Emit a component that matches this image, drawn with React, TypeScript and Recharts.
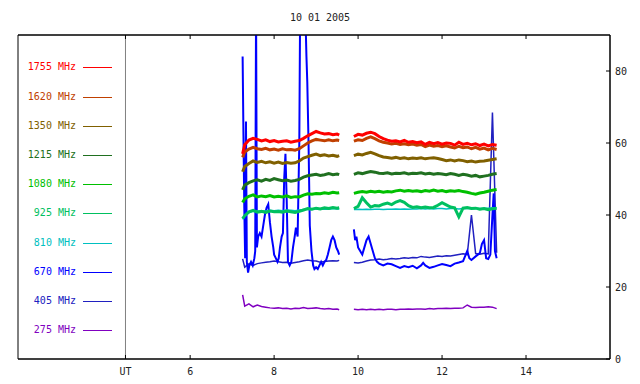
import React from 'react';
import { LineChart, Line, XAxis, YAxis, ReferenceLine, ReferenceArea } from 'recharts';

const title = '10 01 2005';

// UT hours shared by the quieter channels (9.75 marks the data gap)
const hours = [
  7.25, 7.3, 7.4, 7.5, 7.6, 7.7, 7.8, 7.9, 8.0, 8.1, 8.2, 8.3, 8.4, 8.5, 8.6, 8.7, 8.8, 8.9, 9.0, 9.1, 9.2, 9.3, 9.4, 9.5, 9.55,
  9.75,
  9.9, 10.0, 10.1, 10.2, 10.3, 10.4, 10.5, 10.6, 10.7, 10.8, 10.9, 11.0, 11.1, 11.2, 11.3, 11.4, 11.5, 11.6, 11.7, 11.8, 11.9,
  12.0, 12.1, 12.2, 12.3, 12.4, 12.5, 12.6, 12.7, 12.8, 12.9, 13.0, 13.1, 13.2, 13.3,
];

const mhz1755 = [
  57, 59.5, 60.8, 61.3, 61, 60.6, 60.9, 60.4, 60.7, 60.3, 60.5, 60.6, 60.2, 60.5, 60.7, 61.3, 62, 62.6, 63.2, 62.8, 62.5, 62.6, 62.3, 62.5, 62.2,
  null,
  61.8, 62.4, 62.2, 62.7, 63, 62.6, 61.8, 61.2, 60.8, 60.5, 60.6, 60.3, 60.7, 60.2, 60.4, 60.1, 60.3, 59.6, 60.2, 59.8, 60.1,
  59.7, 60.0, 59.9, 59.4, 60.2, 59.6, 59.9, 59.5, 59.8, 59.3, 59.7, 59.2, 59.6, 59.4,
];
const mhz1620 = [
  56, 57.5, 58.3, 58.8, 58.4, 58.2, 58.5, 58.1, 58.3, 58.0, 58.4, 58.1, 58.2, 58.0, 58.4, 59.2, 60.0, 60.6, 61.0, 60.8, 60.6, 60.9, 60.6, 60.8, 60.7,
  null,
  60.5, 60.9, 60.7, 61.3, 61.7, 61.2, 60.6, 60.2, 60.0, 59.7, 59.9, 59.6, 59.8, 59.5, 59.7, 59.4, 59.6, 59.0, 59.4, 59.1, 59.3,
  59.0, 59.2, 58.9, 58.6, 59.1, 58.7, 58.9, 58.4, 58.8, 58.3, 58.6, 58.1, 58.5, 58.2,
];
const mhz1350 = [
  52, 53.5, 54.3, 55, 54.6, 54.9, 54.5, 54.8, 54.4, 54.7, 54.3, 54.6, 54.4, 54.5, 55.0, 55.8, 56.2, 56.6, 56.9, 56.5, 56.7, 56.4, 56.6, 56.3, 56.5,
  null,
  56.5, 56.9, 56.7, 57.1, 57.4, 57.0, 56.5, 56.1, 56.0, 55.8, 56.0, 55.7, 55.9, 55.6, 55.8, 55.7, 55.9, 55.6, 55.8, 55.9, 55.7,
  55.4, 55.1, 55.3, 55.0, 55.3, 55.1, 54.8, 55.0, 54.7, 54.9, 55.0, 55.2, 55.4, 55.6,
];
const mhz1215 = [
  47, 48.3, 49.0, 49.5, 49.8, 49.4, 49.9, 49.6, 50.1, 49.8, 49.5, 49.7, 49.4, 49.6, 49.9, 50.5, 50.9, 51.1, 51.3, 51.0, 51.2, 51.5, 51.2, 51.4, 51.2,
  null,
  51.3, 51.7, 51.5, 51.8, 52.1, 51.9, 51.6, 51.5, 51.7, 51.4, 51.6, 51.5, 51.7, 51.4, 51.6, 51.5, 51.7, 51.4, 51.6, 51.3, 51.5,
  51.4, 51.2, 51.5, 51.3, 51.0, 51.3, 51.1, 50.8, 51.0, 50.6, 50.8, 51.0, 51.3, 51.5,
];
const mhz1080 = [
  43.5, 44.5, 45.2, 45.6, 45.0, 45.3, 45.1, 45.4, 45.0, 45.2, 45.0, 45.3, 44.9, 45.1, 45.0, 45.5, 45.9, 45.8, 46.0, 45.9, 46.2, 46.0, 46.3, 46.1, 46.2,
  null,
  46.0, 46.3, 46.5, 46.3, 46.6, 46.4, 46.6, 46.3, 46.5, 46.4, 46.7, 46.9, 46.6, 46.8, 46.6, 46.7, 46.5, 46.8, 46.6, 46.9, 46.6,
  46.8, 46.5, 46.7, 46.6, 46.8, 46.5, 46.3, 46.0, 45.8, 46.1, 46.3, 46.6, 46.9, 47.1,
];
const mhz925 = [
  39.0, 39.8, 40.9, 41.3, 40.8, 41.0, 40.7, 41.1, 40.9, 41.0, 40.8, 41.1, 40.9, 40.7, 41.0, 41.4, 41.8, 41.6, 41.9, 41.7, 42.0, 41.8, 42.1, 41.9, 42.0,
  null,
  41.8, 42.4, 44.8, 43.4, 42.2, 42.6, 42.5, 43.0, 43.3, 42.9, 43.6, 44.0, 43.5, 42.6, 42.1, 42.3, 42.0, 42.2, 42.0, 42.1, 42.7,
  43.4, 42.8, 42.2, 42.0, 39.5, 41.9, 42.1, 41.8, 41.9, 41.6, 41.8, 41.5, 41.7, 41.9,
];
const mhz810 = [
  38.8, 39.6, 40.6, 41.0, 41.1, 41.2, 41.1, 41.3, 41.2, 41.3, 41.2, 41.4, 41.3, 41.2, 41.4, 41.5, 41.6, 41.5, 41.7, 41.6, 41.7, 41.6, 41.8, 41.7, 41.7,
  null,
  41.5, 41.6, 41.5, 41.6, 41.5, 41.6, 41.6, 41.5, 41.6, 41.6, 41.7, 41.6, 41.7, 41.6, 41.7, 41.7, 41.8, 41.7, 41.8, 41.7, 41.8,
  41.8, 41.7, 41.8, 41.8, 41.7, 41.8, 41.9, 41.8, 41.9, 41.8, 41.9, 41.9, 42.0, 42.0,
];
const mhz405 = [
  27.8, 25.5, 26.4, 26.0, 26.5, 26.7, 26.9, 27.0, 27.2, 27.0, 26.8, 26.9, 26.6, 26.8, 27.0, 27.3, 27.5, 27.3, 27.2, 26.9, 27.1, 27.2, 27.3, 27.2, 27.4,
  null,
  26.8, 26.7, 26.9, 27.2, 27.5, 27.6, 27.8, 27.6, 27.7, 27.9, 27.8, 27.9, 28.1, 28.0, 28.2, 28.1, 28.5, 28.3, 28.2, 28.4, 28.6,
  28.5, 28.7, 28.6, 28.8, 29.0, 29.2, 29.0, 40.0, 29.3, 29.1, 29.4, 29.2, 68.5, 29.5,
];
const mhz275 = [
  17.8, 14.7, 15.3, 14.5, 15.0, 14.6, 14.4, 14.2, 14.1, 14.2, 14.0, 14.1, 13.9, 14.1, 14.0, 14.3, 14.0, 14.1, 14.2, 14.0, 13.9, 14.0, 13.8, 13.9, 13.7,
  null,
  13.8, 13.7, 13.8, 13.7, 13.8, 13.7, 13.8, 13.7, 13.8, 13.8, 13.7, 13.8, 13.8, 13.9, 13.8, 13.9, 13.9, 13.8, 14.0, 13.9, 14.0,
  14.0, 14.1, 14.0, 14.1, 14.1, 14.2, 15.0, 14.4, 14.3, 14.4, 14.4, 14.5, 14.4, 14.0,
];

// 670 MHz is bursty, so it gets its own finer time grid
const hours670 = [
  7.25, 7.27, 7.29, 7.31, 7.33, 7.35, 7.38, 7.41, 7.45, 7.49, 7.53, 7.55, 7.57, 7.59, 7.62, 7.66, 7.7, 7.74, 7.78, 7.82,
  7.86, 7.9, 7.94, 7.98, 8.0, 8.04, 8.08, 8.11, 8.14, 8.18, 8.21, 8.24, 8.27, 8.3, 8.33, 8.37, 8.41, 8.45, 8.49, 8.52,
  8.56, 8.6, 8.62, 8.66, 8.7, 8.74, 8.77, 8.79, 8.82, 8.85, 8.89, 8.93, 8.96, 9.0, 9.04, 9.08, 9.12, 9.16, 9.2, 9.24,
  9.28, 9.32, 9.36, 9.4, 9.44, 9.48, 9.52, 9.55,
  9.75,
  9.9, 9.93, 9.96, 10.0, 10.05, 10.1, 10.15, 10.2, 10.25, 10.3, 10.35, 10.4, 10.45, 10.5, 10.6, 10.7, 10.8, 10.9, 11.0, 11.1,
  11.2, 11.3, 11.4, 11.5, 11.55, 11.6, 11.7, 11.8, 11.9, 12.0, 12.1, 12.2, 12.3, 12.4, 12.5, 12.6, 12.65, 12.7, 12.8, 12.9,
  12.95, 13.0, 13.05, 13.1, 13.15, 13.2, 13.23, 13.26, 13.3,
];
const mhz670 = [
  84, 62, 42, 28, 66, 27, 24, 26, 27, 26, 28, 30, 98, 31, 34, 35, 34, 37, 40, 42,
  43, 38, 34, 31, 29, 28, 27, 28, 31, 34, 35, 50, 57, 44, 27, 26, 27, 31, 34, 36.5,
  34, 60, 98, 98, 98, 98, 84, 77, 60, 37, 30, 26, 25, 25.5, 25, 26, 27, 26, 27, 27.5,
  29, 31, 33, 34, 33, 31, 30, 29,
  null,
  36, 33, 34, 31, 30, 29, 31, 33, 34, 32, 30, 28, 27, 26.5, 26, 26.5, 26.3, 25.8, 25.3, 25.8,
  25.5, 25.9, 25.2, 26, 26.7, 26, 25.3, 25.6, 26, 26.4, 26.1, 25.8, 26.5, 26.8, 27.2, 30, 28, 27.5, 28.5, 29.4,
  32, 33, 28, 27.8, 29, 40, 46, 30, 28,
];

const freqLabels = ['1755 MHz', '1620 MHz', '1350 MHz', '1215 MHz', '1080 MHz', '925 MHz', '810 MHz', '670 MHz', '405 MHz', '275 MHz'];
const seriesKeys = ['s1755', 's1620', 's1350', 's1215', 's1080', 's925', 's810', 's670', 's405', 's275'];
const colors = ['#ff0000', '#c04000', '#806000', '#207020', '#00c000', '#00c060', '#00c0c0', '#0000ff', '#2020c0', '#8000c0'];

const xTicks = [4.46, 6, 8, 10, 12, 14];
const yTicks = [0, 20, 40, 60, 80];

const table = hours.map((t, i) => ({
  t,
  s1755: mhz1755[i], s1620: mhz1620[i], s1350: mhz1350[i], s1215: mhz1215[i], s1080: mhz1080[i],
  s925: mhz925[i], s810: mhz810[i], s405: mhz405[i], s275: mhz275[i],
}));
const table670 = hours670.map((t, i) => ({ t, s670: mhz670[i] }));

const mono = 'DejaVu Sans Mono, monospace';
const tickStyle = { fill: '#222', fontSize: 10, fontFamily: mono };

const App = () => {
  // draw low frequencies first so 1755 ends up on top
  const order = [9, 8, 7, 6, 5, 4, 3, 2, 1, 0];
  return (
    <div style={{ position: 'absolute', left: 0, top: 0, width: 640, height: 384, background: '#fff' }}>
      <div style={{ position: 'absolute', left: 0, top: 12, width: 640, textAlign: 'center', fontFamily: mono, fontSize: 10, lineHeight: '12px', color: '#222' }}>
        {title}
      </div>
      <LineChart width={640} height={384} data={table} margin={{ top: 5, right: 0, bottom: 0, left: 18 }}>
        <XAxis
          dataKey="t" type="number" domain={[1.9, 16]} allowDataOverflow ticks={xTicks} interval={0}
          tickFormatter={(v: number) => (v === 4.46 ? 'UT' : String(v))}
          tickSize={-4} tickMargin={13} height={25}
          axisLine={{ stroke: '#000' }} tickLine={{ stroke: '#000' }} tick={tickStyle}
        />
        <XAxis
          xAxisId="top" orientation="top" dataKey="t" type="number" domain={[1.9, 16]} allowDataOverflow
          ticks={xTicks} interval={0} tickFormatter={() => ''} tickSize={-4} height={30}
          axisLine={{ stroke: '#000' }} tickLine={{ stroke: '#000' }}
        />
        <YAxis
          orientation="right" type="number" domain={[0, 90]} allowDataOverflow ticks={yTicks} interval={0}
          tickSize={-4} tickMargin={9} width={30}
          axisLine={{ stroke: '#000' }} tickLine={{ stroke: '#000' }} tick={tickStyle}
        />
        <ReferenceArea x1={1.9} x2={16} y1={0} y2={90} fill="none" stroke="#000" />
        <ReferenceLine x={4.46} stroke="#808080" />
        {order.map(i =>
          seriesKeys[i] === 's670' ? (
            <Line key={seriesKeys[i]} data={table670} dataKey="s670" stroke={colors[i]} strokeWidth={2}
              dot={false} isAnimationActive={false} connectNulls={false} />
          ) : (
            <Line key={seriesKeys[i]} dataKey={seriesKeys[i]} stroke={colors[i]}
              strokeWidth={i === 6 || i === 8 || i === 9 ? 1.5 : 3}
              dot={false} isAnimationActive={false} connectNulls={false} />
          )
        )}
      </LineChart>
      {freqLabels.map((label, i) => (
        <div key={label} style={{ position: 'absolute', left: 0, top: 61.3 + 29.2 * i, height: 12, width: 120 }}>
          <span style={{ position: 'absolute', right: 44, top: 0, lineHeight: '12px', fontFamily: mono, fontSize: 10, color: colors[i], whiteSpace: 'nowrap' }}>
            {label}
          </span>
          <span style={{ position: 'absolute', left: 83, top: 6, width: 29, height: 1, background: colors[i] }} />
        </div>
      ))}
    </div>
  );
};

export default App;
